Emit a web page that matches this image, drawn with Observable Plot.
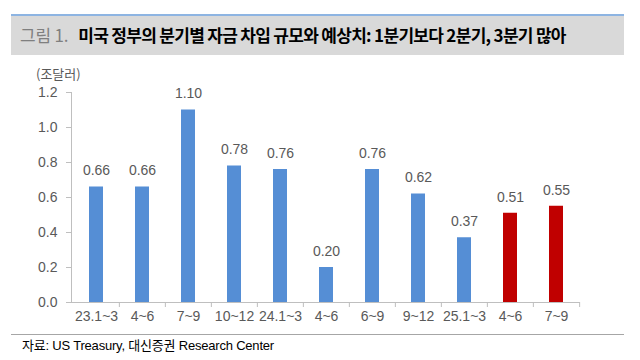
<!DOCTYPE html>
<html>
<head>
<meta charset="utf-8">
<script src="https://cdn.jsdelivr.net/npm/d3@7"></script>
<script src="https://cdn.jsdelivr.net/npm/@observablehq/plot@0.6"></script>
<style>
  body { margin: 0; background: #fff; }
  #wrap { position: relative; width: 640px; height: 360px; font-family: "Liberation Sans", Arial, "Noto Sans CJK KR", sans-serif; }
  #band { position: absolute; left: 11px; top: 14px; width: 613px; height: 41px; background: #D9D9D9; border-top: 2px solid #8DB4E2; box-sizing: border-box; }
  #title { position: absolute; left: 9px; top: 9px; font-size: 17px; white-space: nowrap; font-family: "Noto Sans CJK KR", sans-serif; line-height: 20px; }
  #title .num { color: #7F7F7F; font-weight: 400; letter-spacing: -0.2px; }
  #title .main { color: #000; font-weight: 700; letter-spacing: -0.7px; margin-left: 10px; }
  #ylab { position: absolute; left: 36px; top: 66px; font-size: 13px; color: #595959; font-family: "Noto Sans CJK KR", sans-serif; line-height: 16px; }
  #chart { position: absolute; left: 0; top: 60px; }
  #rule { position: absolute; left: 11px; top: 334px; width: 613px; height: 1px; background: #A6A6A6; }
  #caption { position: absolute; left: 22px; top: 337px; font-size: 13px; color: #000; white-space: nowrap; line-height: 17px; letter-spacing: -0.2px; }
</style>
</head>
<body>
<div id="wrap">
  <div id="band"><div id="title"><span class="num">그림 1.</span><span class="main">미국 정부의 분기별 자금 차입 규모와 예상치: 1분기보다 2분기, 3분기 많아</span></div></div>
  <div id="ylab">(조달러)</div>
  <div id="chart"></div>
  <div id="rule"></div>
  <div id="caption">자료: US Treasury, 대신증권 Research Center</div>
</div>
<script>
const periodKeys = ["23Q1", "23Q2", "23Q3", "23Q4", "24Q1", "24Q2", "24Q3", "24Q4", "25Q1", "25Q2", "25Q3"];
const periodLabels = ["23.1~3", "4~6", "7~9", "10~12", "24.1~3", "4~6", "6~9", "9~12", "25.1~3", "4~6", "7~9"];
const borrowing = [0.66, 0.66, 1.10, 0.78, 0.76, 0.20, 0.76, 0.62, 0.37, 0.51, 0.55];
const kinds = ["actual", "actual", "actual", "actual", "actual", "actual", "actual", "actual", "actual", "forecast", "forecast"];
const yTicks = [0, 0.2, 0.4, 0.6, 0.8, 1.0, 1.2];

const data = periodKeys.map((k, i) => ({key: k, label: periodLabels[i], value: borrowing[i], kind: kinds[i]}));
const labelOf = new Map(periodKeys.map((k, i) => [k, periodLabels[i]]));

const W = 640, H = 270, mL = 71, mR = 60, mT = 32, mB = 28;
const half = (W - mL - mR) / periodKeys.length / 2;
const gray = "#BFBFBF";
const textGray = "#595959";

const chart = Plot.plot({
  width: W,
  height: H,
  marginLeft: mL,
  marginRight: mR,
  marginTop: mT,
  marginBottom: mB,
  style: {fontFamily: "'Liberation Sans', Arial, sans-serif", fontSize: "14px", color: textGray, background: "transparent"},
  x: {domain: periodKeys, paddingInner: 0.7, paddingOuter: 0.35},
  y: {domain: [0, 1.2]},
  color: {domain: ["actual", "forecast"], range: ["#558ED5", "#C00000"]},
  marks: [
    Plot.barY(data, {x: "key", y: "value", fill: "kind"}),
    Plot.frame({anchor: "left", stroke: gray}),
    Plot.ruleY([0], {stroke: gray}),
    Plot.ruleX(periodKeys.slice(1), {x: d => d, y1: 0, y2: 0, dx: -half, insetBottom: -5, stroke: gray}),
    Plot.ruleX(periodKeys.slice(-1), {x: d => d, y1: 0, y2: 0, dx: half, insetBottom: -5, stroke: gray}),
    Plot.text(data, {x: "key", y: "value", text: d => d3.format(".2f")(d.value), dy: -16, lineAnchor: "middle", fill: textGray, fontSize: 14}),
    Plot.axisY({ticks: yTicks, tickFormat: d3.format(".1f"), tickSize: 5, tickPadding: 9, stroke: gray, label: null, fontSize: 14, fill: textGray}),
    Plot.axisX({tickFormat: d => labelOf.get(d), tickSize: 0, tickPadding: 9, label: null, fontSize: 14, fill: textGray})
  ]
});
document.getElementById("chart").appendChild(chart);
</script>
</body>
</html>
